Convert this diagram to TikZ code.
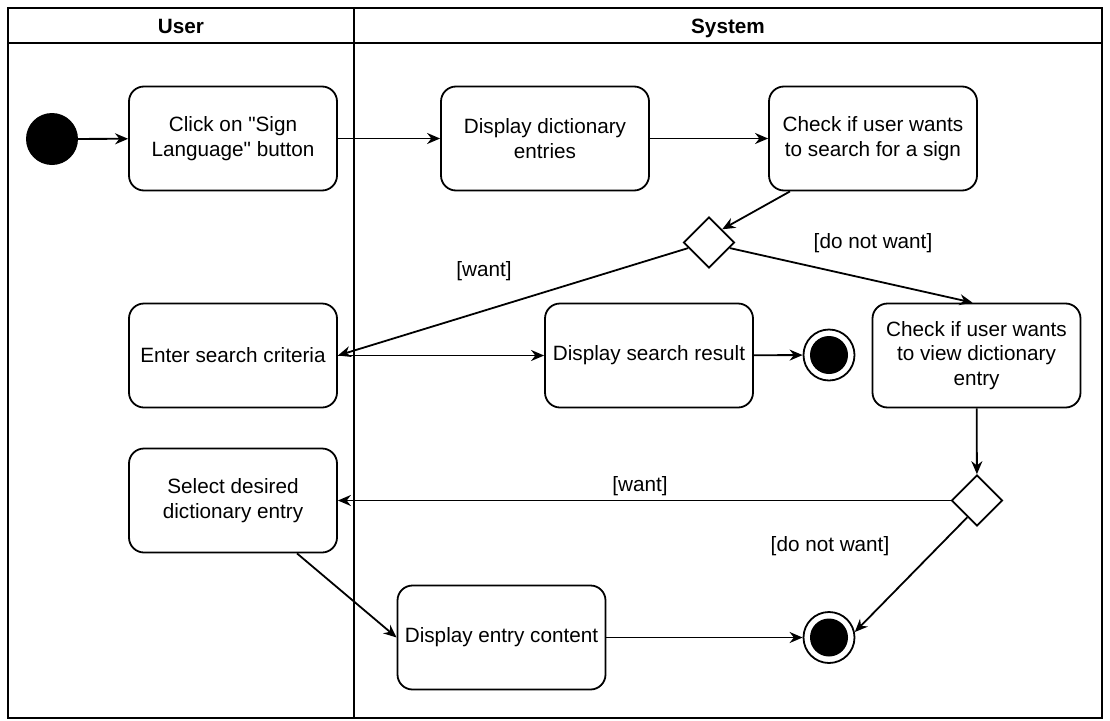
\documentclass[tikz,border=0pt]{standalone}
\usepackage{fontspec}
\setmainfont{Liberation Sans}
% plain family without TeX ligature mapping, so " stays a straight quote
\newfontfamily\diagfont{Liberation Sans}
\usetikzlibrary{arrows.meta,shapes.geometric}
\begin{document}
\begin{tikzpicture}[x=1pt,y=-1pt,
  every node/.style={font=\diagfont\fontsize{20.7}{24.6}\selectfont},
  action/.style={draw,line width=1.8pt,rounded corners=15pt,minimum width=208pt,minimum height=104pt,align=center,inner sep=2pt,fill=white},
  decision/.style={draw,line width=1.8pt,diamond,aspect=1,minimum width=51pt,minimum height=51pt,inner sep=0pt,fill=white},
  startnode/.style={circle,fill=black,minimum size=52pt,inner sep=0pt},
  endouter/.style={circle,draw,line width=1.8pt,fill=white,minimum size=51pt,inner sep=0pt},
  endinner/.style={circle,fill=black,minimum size=38pt,inner sep=0pt},
  flow/.style={line width=1.8pt,-{Stealth[length=13pt,width=11pt]}},
  guard/.style={inner sep=0pt},
  lanehead/.style={font=\diagfont\fontsize{20.7}{24.6}\selectfont\bfseries,anchor=base,inner sep=0pt},
  lane/.style={line width=2pt}
]
\useasboundingbox (0,0) rectangle (1110,720);

% swimlanes
\draw[lane] (8,8) rectangle (1102,718);
\draw[lane] (8,43) -- (1102,43);
\draw[lane] (354,8) -- (354,718);
\node[lanehead] (userhead) at (181,33) {User};
\node[lanehead] (syshead) at (728,33) {System};

% activity nodes
\node[startnode] (start) at (52,139) {};
\node[action] (click) at (233,138.5) {Click on "Sign\\Language" button};
\node[action] (dict) at (545,138.5) {Display dictionary\\entries};
\node[action] (chksearch) at (873,138.5) {Check if user wants\\to search for a sign};
\node[decision] (d1) at (709,242.5) {};
\node[action] (criteria) at (233,355.5) {Enter search criteria};
\node[action] (result) at (649,355.5) {Display search result};
\node[endouter] (end1) at (829,355) {};
\node[endinner] (end1dot) at (829,355) {};
\node[action] (chkview) at (976.5,355.5) {Check if user wants\\to view dictionary\\entry};
\node[decision] (d2) at (977,500.5) {};
\node[action] (select) at (233,500.5) {Select desired\\dictionary entry};
\node[action] (content) at (501.5,637.5) {Display entry content};
\node[endouter] (end2) at (829,637.5) {};
\node[endinner] (end2dot) at (829,637.5) {};

% connectors
\draw[flow] (start) -- (click);
\draw[flow] (click) -- (dict);
\draw[flow] (dict) -- (chksearch);
\draw[flow] ([xshift=-83pt]chksearch.south) -- (d1.45);
\draw[flow] (d1.195) -- (criteria.east);
\draw[flow] (d1.345) -- ([xshift=-4pt]chkview.north);
\draw[flow] (criteria.east) -- (result.west);
\draw[flow] (result) -- (end1);
\draw[flow] (chkview) -- (d2);
\draw[flow] (d2.west) -- (select.east);
\draw[flow] (d2.240) -- (end2.12);
\draw[flow] ([xshift=64pt]select.south) -- (content.west);
\draw[flow] (content) -- (end2);

% guards
\node[guard] (g1) at (484,271) {[want]};
\node[guard] (g2) at (873,243) {[do not want]};
\node[guard] (g3) at (640,486) {[want]};
\node[guard] (g4) at (830,546) {[do not want]};
\end{tikzpicture}
\end{document}
